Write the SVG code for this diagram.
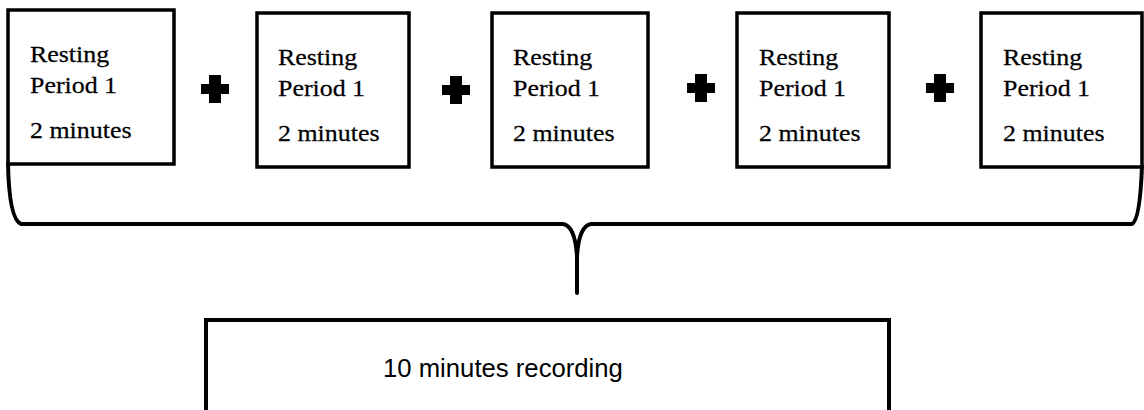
<svg xmlns="http://www.w3.org/2000/svg" width="1144" height="410" viewBox="0 0 1144 410">
<style>
.box{fill:#fff;stroke:#000;stroke-width:3.5}
.t{font-family:"Liberation Serif","Times New Roman",serif;font-size:24px;fill:#000;stroke:#000;stroke-width:0.25}
.b{font-family:"Liberation Sans",Arial,sans-serif;font-size:25.7px;fill:#000}
.plus{fill:#000}
.brace{fill:none;stroke:#000;stroke-width:4;stroke-linecap:round;stroke-linejoin:round}
</style>
<defs>
<path id="plus" d="M-6,-14 H6 V-5 H14 V5 H6 V14 H-6 V5 H-14 V-5 H-6 Z"/>
</defs>
<rect width="1144" height="410" fill="#fff"/>
<g id="connectors">
<path class="brace" d="M8,163 Q9,219 21,224 L563,224 Q575,226 577,256 L577,293 M577,256 Q579,226 591,224 L1132,224 Q1140,220 1142,166"/>
</g>
<g id="plus1"><use href="#plus" class="plus" x="215" y="89"/></g>
<g id="plus2"><use href="#plus" class="plus" x="456" y="90"/></g>
<g id="plus3"><use href="#plus" class="plus" x="701" y="88"/></g>
<g id="plus4"><use href="#plus" class="plus" x="940" y="88"/></g>
<g id="node1">
<rect class="box" x="8" y="10" width="166" height="154"/>
<text class="t" transform="matrix(1.08 0 0 1 30 62)">Resting</text>
<text class="t" transform="matrix(1.08 0 0 1 30 93)">Period 1</text>
<text class="t" transform="matrix(1.08 0 0 1 30 138)">2 minutes</text>
</g>
<g id="node2">
<rect class="box" x="257" y="13" width="152" height="154"/>
<text class="t" transform="matrix(1.08 0 0 1 278 65)">Resting</text>
<text class="t" transform="matrix(1.08 0 0 1 278 96)">Period 1</text>
<text class="t" transform="matrix(1.08 0 0 1 278 141)">2 minutes</text>
</g>
<g id="node3">
<rect class="box" x="492" y="13" width="156" height="154"/>
<text class="t" transform="matrix(1.08 0 0 1 513 65)">Resting</text>
<text class="t" transform="matrix(1.08 0 0 1 513 96)">Period 1</text>
<text class="t" transform="matrix(1.08 0 0 1 513 141)">2 minutes</text>
</g>
<g id="node4">
<rect class="box" x="737" y="13" width="152" height="154"/>
<text class="t" transform="matrix(1.08 0 0 1 759 65)">Resting</text>
<text class="t" transform="matrix(1.08 0 0 1 759 96)">Period 1</text>
<text class="t" transform="matrix(1.08 0 0 1 759 141)">2 minutes</text>
</g>
<g id="node5">
<rect class="box" x="981" y="13" width="161" height="154"/>
<text class="t" transform="matrix(1.08 0 0 1 1003 65)">Resting</text>
<text class="t" transform="matrix(1.08 0 0 1 1003 96)">Period 1</text>
<text class="t" transform="matrix(1.08 0 0 1 1003 141)">2 minutes</text>
</g>
<g id="node6">
<rect class="box" x="206" y="320" width="683" height="96" style="stroke-width:4"/>
<text class="b" x="383" y="377">10 minutes recording</text>
</g>
</svg>
